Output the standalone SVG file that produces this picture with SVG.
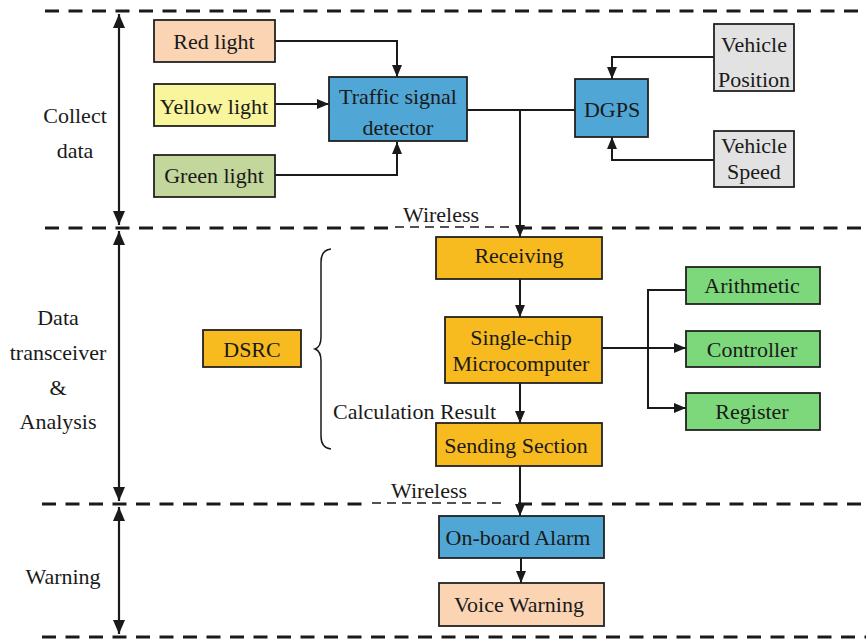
<svg xmlns="http://www.w3.org/2000/svg" width="868" height="640" viewBox="0 0 868 640" font-family="Liberation Serif, Times New Roman, serif">
  <style>
    text { font-family: Liberation Serif, Times New Roman, serif; font-size: 22px; fill: #1a1a1a; }
    .c { text-anchor: middle; }
    .box { stroke: #222; stroke-width: 1.8; }
    .peach { fill: #fbd4b4; }
    .yellow { fill: #f8f59c; }
    .olive { fill: #c3d69b; }
    .blue { fill: #50a6d5; }
    .grey { fill: #e2e2e2; }
    .orange { fill: #f7bb20; }
    .green { fill: #7dd87c; }
    .sep { stroke: #1a1a1a; stroke-width: 3; stroke-dasharray: 14 9.5; fill: none; }
    .thin { stroke: #1a1a1a; stroke-width: 1.5; stroke-dasharray: 9 6; fill: none; }
    .wire { stroke: #1a1a1a; stroke-width: 2; fill: none; }
    .arr { marker-end: url(#ah); }
    .span { stroke: #1a1a1a; stroke-width: 2.2; fill: none; marker-start: url(#ahs); marker-end: url(#ah2); }
  </style>
  <defs>
    <marker id="ah" viewBox="0 0 12 10" refX="12" refY="5" markerWidth="12" markerHeight="10" markerUnits="userSpaceOnUse" orient="auto">
      <path d="M0,0 L12,5 L0,10 Z" fill="#1a1a1a"/>
    </marker>
    <marker id="ah2" viewBox="0 0 14 12" refX="14" refY="6" markerWidth="14" markerHeight="12" markerUnits="userSpaceOnUse" orient="auto">
      <path d="M0,0 L14,6 L0,12 Z" fill="#1a1a1a"/>
    </marker>
    <marker id="ahs" viewBox="0 0 14 12" refX="0" refY="6" markerWidth="14" markerHeight="12" markerUnits="userSpaceOnUse" orient="auto">
      <path d="M14,0 L0,6 L14,12 Z" fill="#1a1a1a"/>
    </marker>
  </defs>

  <!-- stage separators -->
  <g id="separators">
    <line class="sep" x1="45" y1="11" x2="866" y2="11"/>
    <line class="sep" x1="45" y1="228" x2="392" y2="228"/>
    <line class="thin" x1="395" y1="227" x2="514" y2="227"/>
    <line class="sep" x1="518" y1="228" x2="866" y2="228"/>
    <line class="sep" x1="42" y1="504" x2="368" y2="504"/>
    <polyline class="thin" points="372,503 503,503 503,499"/>
    <line class="sep" x1="518" y1="504" x2="866" y2="504"/>
    <line class="sep" x1="42" y1="637" x2="866" y2="637"/>
  </g>

  <!-- stage spans and labels -->
  <g id="stages">
    <line class="span" x1="119" y1="14" x2="119" y2="225"/>
    <line class="span" x1="119" y1="231" x2="119" y2="501"/>
    <line class="span" x1="119" y1="507" x2="119" y2="634"/>
    <text class="c" x="75" y="123">Collect</text>
    <text class="c" x="75" y="158">data</text>
    <text class="c" x="58" y="325">Data</text>
    <text class="c" x="58" y="360">transceiver</text>
    <text class="c" x="58" y="395">&amp;</text>
    <text class="c" x="58" y="429">Analysis</text>
    <text class="c" x="63" y="584">Warning</text>
  </g>

  <!-- connectors -->
  <g id="connectors">
    <polyline class="wire arr" points="275,41 397,41 397,77"/>
    <line class="wire arr" x1="275" y1="104" x2="329" y2="104"/>
    <polyline class="wire arr" points="275,175 397,175 397,142"/>
    <line class="wire" x1="467" y1="110" x2="575" y2="110"/>
    <line class="wire arr" x1="520" y1="110" x2="520" y2="237"/>
    <polyline class="wire arr" points="714,57 612,57 612,79"/>
    <polyline class="wire arr" points="714,160 612,160 612,137"/>
    <line class="wire arr" x1="520" y1="279" x2="520" y2="317"/>
    <line class="wire arr" x1="520" y1="383" x2="520" y2="423"/>
    <line class="wire arr" x1="520" y1="466" x2="520" y2="516"/>
    <line class="wire arr" x1="521" y1="558" x2="521" y2="583"/>
    <line class="wire arr" x1="602" y1="348" x2="686" y2="348"/>
    <polyline class="wire arr" points="686,290 648,290 648,408 686,408"/>
    <!-- DSRC brace -->
    <path d="M331,249 Q321,250 321,262 L321,337 Q321,347 315,349 Q321,351 321,361 L321,436 Q321,448 331,449" stroke="#1a1a1a" stroke-width="1.5" fill="none"/>
    <text x="403" y="222">Wireless</text>
    <text x="391" y="498">Wireless</text>
    <text x="333" y="419">Calculation Result</text>
  </g>

  <!-- nodes -->
  <g id="red-light">
    <rect class="box peach" x="154" y="20" width="121" height="42"/>
    <text class="c" x="214" y="49">Red light</text>
  </g>
  <g id="yellow-light">
    <rect class="box yellow" x="154" y="84" width="121" height="42"/>
    <text class="c" x="214" y="114">Yellow light</text>
  </g>
  <g id="green-light">
    <rect class="box olive" x="154" y="155" width="121" height="42"/>
    <text class="c" x="214" y="183">Green light</text>
  </g>
  <g id="traffic-signal-detector">
    <rect class="box blue" x="329" y="77" width="138" height="64"/>
    <text class="c" x="398" y="104">Traffic signal</text>
    <text class="c" x="398" y="135">detector</text>
  </g>
  <g id="dgps">
    <rect class="box blue" x="575" y="79" width="73" height="58"/>
    <text class="c" x="612" y="117">DGPS</text>
  </g>
  <g id="vehicle-position">
    <rect class="box grey" x="714" y="24" width="80" height="67"/>
    <text class="c" x="754" y="52">Vehicle</text>
    <text class="c" x="754" y="87">Position</text>
  </g>
  <g id="vehicle-speed">
    <rect class="box grey" x="714" y="131" width="80" height="56"/>
    <text class="c" x="754" y="153">Vehicle</text>
    <text class="c" x="754" y="179">Speed</text>
  </g>
  <g id="dsrc">
    <rect class="box orange" x="203" y="330" width="98" height="37"/>
    <text class="c" x="252" y="357">DSRC</text>
  </g>
  <g id="receiving">
    <rect class="box orange" x="436" y="237" width="166" height="42"/>
    <text class="c" x="519" y="263">Receiving</text>
  </g>
  <g id="single-chip-microcomputer">
    <rect class="box orange" x="445" y="317" width="157" height="66"/>
    <text class="c" x="521" y="345">Single-chip</text>
    <text class="c" x="521" y="371">Microcomputer</text>
  </g>
  <g id="sending-section">
    <rect class="box orange" x="436" y="423" width="166" height="43"/>
    <text class="c" x="516" y="453">Sending Section</text>
  </g>
  <g id="arithmetic">
    <rect class="box green" x="686" y="267" width="134" height="37"/>
    <text class="c" x="752" y="293">Arithmetic</text>
  </g>
  <g id="controller">
    <rect class="box green" x="686" y="331" width="134" height="36"/>
    <text class="c" x="752" y="357">Controller</text>
  </g>
  <g id="register">
    <rect class="box green" x="686" y="393" width="134" height="37"/>
    <text class="c" x="752" y="419">Register</text>
  </g>
  <g id="on-board-alarm">
    <rect class="box blue" x="439" y="516" width="165" height="42"/>
    <text class="c" x="518" y="545">On-board Alarm</text>
  </g>
  <g id="voice-warning">
    <rect class="box peach" x="439" y="583" width="165" height="43"/>
    <text class="c" x="519" y="612">Voice Warning</text>
  </g>
</svg>
